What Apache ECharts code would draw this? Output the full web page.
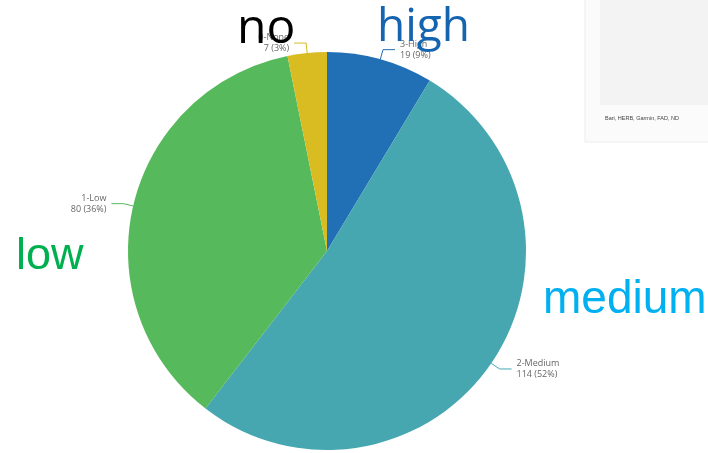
<!DOCTYPE html>
<html>
<head>
<meta charset="utf-8">
<script src="https://cdn.jsdelivr.net/npm/echarts@6/dist/echarts.min.js"></script>
<style>
html,body{margin:0;padding:0;background:#fff;}
#chart{width:708px;height:453px;}
</style>
</head>
<body>
<div id="chart"></div>
<script>
var categories = ['3-High', '2-Medium', '1-Low', '0-None'];
var values = [19, 114, 80, 7];
var colors = ['#216fb5', '#46a7b0', '#56b95b', '#d8bc21'];
var overlayWords = ['no', 'high', 'low', 'medium'];

var chart = echarts.init(document.getElementById('chart'));
var data = categories.map(function (c, i) {
  return { name: c, value: values[i], itemStyle: { color: colors[i] } };
});
chart.setOption({
  animation: false,
  backgroundColor: '#ffffff',
  series: [{
    type: 'pie',
    center: [327, 251],
    radius: [0, 199],
    startAngle: 90,
    clockwise: true,
    percentPrecision: 0,
    avoidLabelOverlap: false,
    data: data,
    itemStyle: { borderWidth: 0 },
    label: {
      formatter: '{b}\n{c} ({d}%)',
      fontSize: 9,
      lineHeight: 11,
      color: '#666666',
      fontFamily: 'Open Sans, sans-serif'
    },
    labelLine: { length: 10, length2: 12, lineStyle: { width: 1 } }
  }],
  graphic: [
    { type: 'rect', z: 0, shape: { x: 585, y: -2, width: 130, height: 144 }, style: { fill: '#fbfbfb', stroke: '#ececec', lineWidth: 1 } },
    { type: 'rect', z: 0, shape: { x: 600, y: -2, width: 115, height: 107 }, style: { fill: '#f3f3f3' } },
    { type: 'text', z: 1, left: 605, top: 115, style: { text: 'Bari, HERB, Garmin, FAD, ND', font: '5.5px sans-serif', fill: '#444' } },
    { type: 'text', z: 100, left: 237, top: 5, style: { text: overlayWords[0], font: '48px "Open Sans", sans-serif', fill: '#000000' } },
    { type: 'text', z: 100, left: 377, top: 5, style: { text: overlayWords[1], font: '46px "Open Sans", sans-serif', fill: '#1464b0' } },
    { type: 'text', z: 100, left: 16, top: 234, style: { text: overlayWords[2], font: '45px "Liberation Sans", Arial, sans-serif', fill: '#00b050' } },
    { type: 'text', z: 100, left: 543, top: 277, style: { text: overlayWords[3], font: '46px "Liberation Sans", Arial, sans-serif', fill: '#00b0f0' } }
  ]
});
</script>
</body>
</html>
